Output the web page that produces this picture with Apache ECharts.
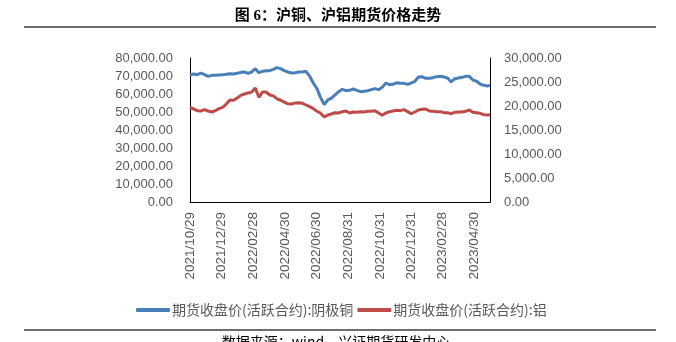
<!DOCTYPE html>
<html><head><meta charset="utf-8">
<script src="https://cdn.jsdelivr.net/npm/echarts@6/dist/echarts.min.js"></script>
<style>html,body{margin:0;padding:0;background:#fff}#c{width:676px;height:342px}</style>
</head><body><div id="c"></div><script>
const dates = [
'2021-10-29','2021-11-05','2021-11-12','2021-11-19','2021-11-26','2021-12-03','2021-12-10','2021-12-17','2021-12-24','2021-12-31',
'2022-01-07','2022-01-14','2022-01-21','2022-01-28','2022-02-04','2022-02-11','2022-02-18','2022-02-25','2022-03-04','2022-03-11',
'2022-03-18','2022-03-25','2022-04-01','2022-04-08','2022-04-15','2022-04-22','2022-04-29','2022-05-06','2022-05-13','2022-05-20',
'2022-05-27','2022-06-03','2022-06-10','2022-06-17','2022-06-24','2022-07-01','2022-07-08','2022-07-15','2022-07-22','2022-07-29',
'2022-08-05','2022-08-12','2022-08-19','2022-08-26','2022-09-02','2022-09-09','2022-09-16','2022-09-23','2022-09-30','2022-10-07',
'2022-10-14','2022-10-21','2022-10-28','2022-11-04','2022-11-11','2022-11-18','2022-11-25','2022-12-02','2022-12-09','2022-12-16',
'2022-12-23','2022-12-30','2023-01-06','2023-01-13','2023-01-20','2023-01-27','2023-02-03','2023-02-10','2023-02-17','2023-02-24',
'2023-03-03','2023-03-10','2023-03-17','2023-03-24','2023-03-31','2023-04-07','2023-04-14','2023-04-21','2023-04-28','2023-05-05',
'2023-05-12','2023-05-19','2023-05-26','2023-05-31'];
const copper = [
70560,71110,70740,71670,70740,69810,70370,70370,70560,70740,
70930,71300,71110,71480,72040,72220,71480,72220,74070,71850,
72590,72960,72960,73700,74630,74070,72960,72220,71670,71850,
72220,72220,72590,69810,66110,62960,58000,54200,56700,57700,
59500,61300,62600,61850,62040,62780,62040,61300,61480,61850,
62410,62960,62410,63700,66110,65190,65370,66300,65930,65930,
65370,66110,67040,69440,69630,68700,68700,69070,69630,69810,
69440,68890,66670,68520,68890,69260,69810,69810,67780,67040,
65560,64810,64440,64810];
const aluminum = [
19700,19380,19030,18960,19240,18960,18750,19030,19440,19720,
20420,21250,21180,21670,22220,22500,22700,22900,23750,21810,
22920,22900,22290,22100,21500,21200,20800,20450,20420,20650,
20690,20560,20210,19860,19450,18900,18500,17700,18130,18330,
18610,18540,18820,18960,18540,18750,18680,18820,18750,18890,
18890,19030,18540,18060,18540,18820,18960,19100,19030,19240,
18820,18400,18750,19170,19310,19380,18960,18890,18820,18820,
18610,18610,18400,18680,18750,18750,18890,19170,18680,18610,
18470,18190,18130,18190];
const xTickDates = ['2021-10-29','2021-12-29','2022-02-28','2022-04-30','2022-06-30','2022-08-31','2022-10-31','2022-12-31','2023-02-28','2023-04-30'];
const seriesNames = ['期货收盘价(活跃合约):阴极铜','期货收盘价(活跃合约):铝'];
const titleText = '图 6：沪铜、沪铝期货价格走势';
const sourceText = '数据来源：wind，兴证期货研发中心';

function ts(s){const p=s.split('-').map(Number);return Date.UTC(p[0],p[1]-1,p[2]);}
function pad(n){return (n<10?'0':'')+n;}
function fmtDate(v){const d=new Date(v);return d.getUTCFullYear()+'/'+pad(d.getUTCMonth()+1)+'/'+pad(d.getUTCDate());}
function fmtNum(v){return Number(v).toLocaleString('en-US',{minimumFractionDigits:2,maximumFractionDigits:2});}

const chart = echarts.init(document.getElementById('c'), null, {renderer:'canvas'});
const labelFont = '"Liberation Sans", Arial, sans-serif';
const cjkFont = '"Noto Sans CJK SC", sans-serif';
chart.setOption({
  animation:false,
  backgroundColor:'#fff',
  title:{text:titleText,left:'center',top:4,textStyle:{fontSize:15,fontWeight:'bold',color:'#000',fontFamily:'"Liberation Serif","Noto Sans CJK SC",serif'}},
  graphic:[
    {type:'rect',shape:{x:24,y:26,width:632,height:2},style:{fill:'#6e6e6e'},silent:true},
    {type:'rect',shape:{x:24,y:329,width:632,height:2},style:{fill:'#6e6e6e'},silent:true},
    {type:'text',x:336,y:335,style:{text:sourceText,fill:'#000',font:'14px "Noto Sans CJK SC", sans-serif',textAlign:'center',textVerticalAlign:'top'},silent:true}
  ],
  legend:{
    data:seriesNames,left:131,top:298,itemWidth:34,itemHeight:4,itemGap:4,icon:'roundRect',
    textStyle:{color:'#595959',fontSize:14,fontFamily:cjkFont,padding:[0,0,0,-3]}
  },
  grid:{left:190,right:186,top:58,bottom:140,containLabel:false},
  xAxis:{
    type:'value',min:ts(dates[0]),max:ts(dates[dates.length-1]),
    axisLine:{show:true,lineStyle:{color:'#000',width:1}},
    axisTick:{show:false},splitLine:{show:false},
    axisLabel:{customValues:xTickDates.map(ts),rotate:90,formatter:fmtDate,color:'#595959',fontSize:13.5,fontFamily:labelFont,margin:10,hideOverlap:false}
  },
  yAxis:[
    {type:'value',position:'left',min:0,max:80000,interval:10000,
     axisLine:{show:true,lineStyle:{color:'#000',width:1}},axisTick:{show:false},splitLine:{show:false},
     axisLabel:{formatter:fmtNum,color:'#595959',fontSize:13,fontFamily:labelFont,margin:17}},
    {type:'value',position:'right',min:0,max:30000,interval:5000,
     axisLine:{show:true,lineStyle:{color:'#000',width:1}},axisTick:{show:false},splitLine:{show:false},
     axisLabel:{formatter:fmtNum,color:'#595959',fontSize:13,fontFamily:labelFont,margin:14}}
  ],
  series:[
    {name:seriesNames[0],type:'line',yAxisIndex:0,showSymbol:false,symbol:'none',
     data:dates.map((d,i)=>[ts(d),copper[i]]),lineStyle:{color:'#4A7EBB',width:3},itemStyle:{color:'#4A7EBB'}},
    {name:seriesNames[1],type:'line',yAxisIndex:1,showSymbol:false,symbol:'none',
     data:dates.map((d,i)=>[ts(d),aluminum[i]]),lineStyle:{color:'#BE4B48',width:3},itemStyle:{color:'#BE4B48'}}
  ]
});
</script></body></html>
